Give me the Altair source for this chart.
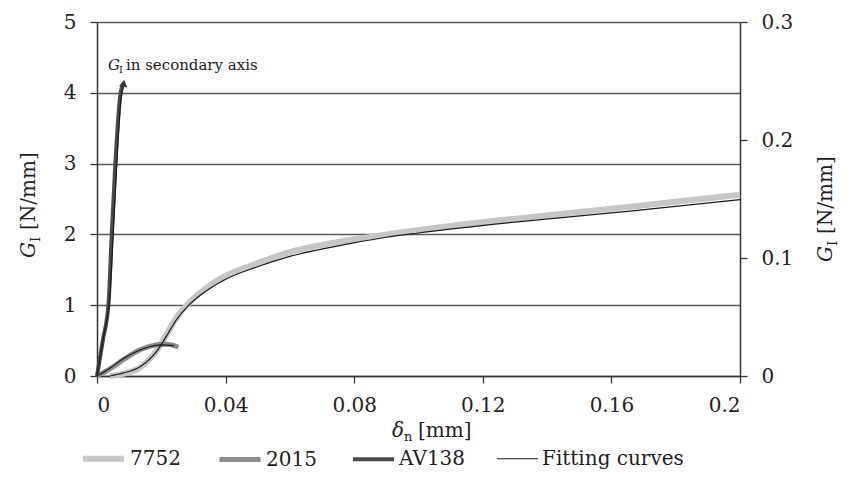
import altair as alt
import pandas as pd

FONT = "DejaVu Serif"

# ---- data ----
x_7752 = [0.004, 0.008, 0.0134, 0.0186, 0.0217, 0.0248, 0.0279, 0.033, 0.0393, 0.0497,
          0.060, 0.0787, 0.09, 0.11, 0.1316, 0.1658, 0.2]
y_7752 = [0.0, 0.03, 0.12, 0.36, 0.59, 0.83, 1.0, 1.21, 1.40, 1.59,
          1.75, 1.92, 2.0, 2.12, 2.23, 2.39, 2.56]

x_fit_7752 = [0.004, 0.008, 0.0134, 0.0186, 0.0217, 0.0248, 0.0279, 0.033, 0.0393, 0.0497,
              0.060, 0.0787, 0.09, 0.10, 0.1316, 0.1658, 0.2]
y_fit_7752 = [0.0, 0.04, 0.13, 0.35, 0.57, 0.80, 0.97, 1.17, 1.35, 1.54,
              1.69, 1.87, 1.96, 2.02, 2.18, 2.33, 2.49]

x_2015 = [0.0, 0.004, 0.0082, 0.0134, 0.0186, 0.0217, 0.0253]
y_2015 = [0.0, 0.10, 0.23, 0.37, 0.44, 0.45, 0.41]

x_fit_2015 = [0.0, 0.004, 0.008, 0.012, 0.016, 0.020, 0.024]
y_fit_2015 = [0.0, 0.11, 0.24, 0.34, 0.41, 0.44, 0.43]

# AV138 is on the secondary axis
x_av138 = [0.0, 0.0018, 0.0036, 0.0045, 0.0057, 0.0073, 0.0083]
y_av138 = [0.0, 0.030, 0.062, 0.115, 0.18, 0.239, 0.248]

x_fit_av138 = [0.0, 0.002, 0.004, 0.005, 0.006, 0.0075, 0.0083]
y_fit_av138 = [0.0, 0.033, 0.068, 0.118, 0.172, 0.236, 0.246]

series_names = ["7752", "2015", "AV138", "Fitting curves"]
series_colors = ["#c6c6c6", "#8c8c8c", "#4a4a4a", "#1a1a1a"]
series_widths = [6, 5, 4, 1.2]

x_ticks = [0, 0.04, 0.08, 0.12, 0.16, 0.2]
y_ticks = [0, 1, 2, 3, 4, 5]
y2_ticks = [0, 0.1, 0.2, 0.3]


def frame(xs, ys, series, group):
    return pd.DataFrame({"x": xs, "y": ys, "series": series, "group": group})


df_7752 = frame(x_7752, y_7752, "7752", "7752")
df_2015 = frame(x_2015, y_2015, "2015", "2015")
df_fit = pd.concat([frame(x_fit_7752, y_fit_7752, "Fitting curves", "f7752"),
                    frame(x_fit_2015, y_fit_2015, "Fitting curves", "f2015")])
df_av = frame(x_av138, y_av138, "AV138", "AV138")
df_fit_av = frame(x_fit_av138, y_fit_av138, "Fitting curves", "fav")
df_arrow = pd.DataFrame({"x": [x_av138[-1]], "y": [y_av138[-1]]})

color = alt.Color("series:N", scale=alt.Scale(domain=series_names, range=series_colors),
                  legend=alt.Legend(title=None, orient="none", legendX=-17, legendY=413,
                                    direction="horizontal", symbolType="stroke",
                                    symbolSize=1681, labelFont=FONT, labelFontSize=20,
                                    labelColor="#222", labelOffset=3, columnPadding=28,
                                    labelLimit=300))
swidth = alt.StrokeWidth("series:N",
                         scale=alt.Scale(type="ordinal", domain=series_names,
                                         range=series_widths),
                         legend=None)

xenc = alt.X("x:Q", scale=alt.Scale(domain=[0, 0.2], nice=False, zero=False),
             axis=alt.Axis(values=x_ticks, format="~g", title=None, grid=False,
                           labelFont=FONT, labelFontSize=20, labelColor="#222",
                           labelPadding=12, tickSize=7, tickColor="#333",
                           domainColor="#333", domainWidth=1.5, tickWidth=1.3))

yleft = alt.Y("y:Q", scale=alt.Scale(domain=[0, 5], nice=False),
              axis=alt.Axis(values=y_ticks, format="~g", title=None, grid=True,
                            gridColor="#5a5a5a", gridWidth=1.4, labelFont=FONT,
                            labelFontSize=20, labelColor="#222", labelPadding=14,
                            tickSize=7, tickColor="#333", domainColor="#333",
                            domainWidth=1.5, tickWidth=1.3))

yright = alt.Y("y:Q", scale=alt.Scale(domain=[0, 0.3], nice=False),
               axis=alt.Axis(orient="right", values=y2_ticks, format="~g", title=None,
                             grid=False, labelFont=FONT, labelFontSize=20,
                             labelColor="#222", labelPadding=14, tickSize=7,
                             tickColor="#333", domainColor="#333", domainWidth=1.5,
                             tickWidth=1.3))


def line(df, y):
    return alt.Chart(df).mark_line(interpolate="monotone", strokeCap="butt").encode(
        x=xenc, y=y, color=color, strokeWidth=swidth, detail="group:N")


def txt(text, x, y, size, italic=False, angle=0):
    return alt.Chart(pd.DataFrame({"t": [text]})).mark_text(
        align="left", baseline="alphabetic", font=FONT, fontSize=size,
        fontStyle="italic" if italic else "normal", angle=angle, color="#222"
    ).encode(x=alt.value(x), y=alt.value(y), text="t:N")


def ann(text, size, dx, dy, italic=False):
    return alt.Chart(pd.DataFrame({"t": [text]})).mark_text(
        align="left", baseline="alphabetic", font=FONT, fontSize=size,
        fontStyle="italic" if italic else "normal", dx=dx, dy=dy, color="#222"
    ).encode(x=alt.datum(0.0034), y=alt.datum(4.32), text="t:N")


primary = alt.layer(
    line(df_7752, yleft),
    line(df_2015, yleft),
    line(df_fit, yleft),
    ann("G", 15, 0, 0, italic=True),
    ann("I", 10, 11, 3),
    ann("in secondary axis", 15, 18, 0),
    # axis titles
    txt("G", -62, 236, 20, italic=True, angle=270),
    txt("I", -57, 220, 13, angle=270),
    txt("[N/mm]", -62, 208, 20, angle=270),
    txt("G", 735, 240, 20, italic=True, angle=270),
    txt("I", 740, 224, 13, angle=270),
    txt("[N/mm]", 735, 212, 20, angle=270),
    txt("δ", 295, 415, 20, italic=True),
    txt("n", 307, 419, 13),
    txt("[mm]", 321, 415, 20),
)

secondary = alt.layer(
    line(df_av, yright),
    line(df_fit_av, yright),
    alt.Chart(df_arrow).mark_point(shape="triangle-up", filled=True, size=70,
                                   color="#3a3a3a", opacity=1, angle=8).encode(
        x=xenc, y=yright),
)

chart = alt.layer(primary, secondary).resolve_scale(y="independent").properties(
    width=643, height=354,
    autosize=alt.AutoSizeParams(type="none"),
    padding={"left": 89, "top": 14, "right": 99, "bottom": 95},
).configure_view(stroke=None).configure(background="white")

chart.save("out.html", embed_options={"renderer": "svg", "actions": False})
